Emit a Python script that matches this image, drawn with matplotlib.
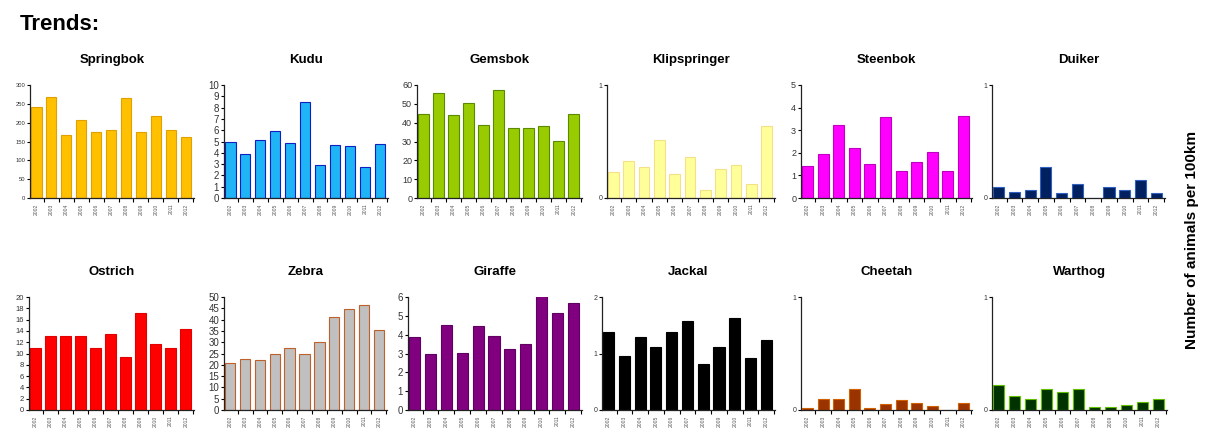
import matplotlib
matplotlib.use("Agg")
import matplotlib.pyplot as plt
from matplotlib.ticker import MultipleLocator, FixedLocator
import numpy as np

plt.rcParams['font.family'] = ['Liberation Sans', 'DejaVu Sans']

years = [str(y) for y in range(2002, 2013)]

species = ["Springbok", "Kudu", "Gemsbok", "Klipspringer", "Steenbok", "Duiker",
           "Ostrich", "Zebra", "Giraffe", "Jackal", "Cheetah", "Warthog"]

springbok = [242, 268, 168, 207, 175, 181, 265, 175, 217, 181, 162]
kudu = [5.0, 3.9, 5.1, 5.9, 4.9, 8.5, 2.9, 4.7, 4.6, 2.7, 4.8]
gemsbok = [44.5, 55.5, 44, 50.5, 38.5, 57.5, 37, 37, 38, 30.5, 44.5]
klipspringer = [0.23, 0.33, 0.27, 0.51, 0.21, 0.36, 0.07, 0.26, 0.29, 0.125, 0.64]
steenbok = [1.4, 1.95, 3.25, 2.2, 1.5, 3.6, 1.2, 1.6, 2.05, 1.2, 3.65]
duiker = [0.10, 0.055, 0.075, 0.27, 0.045, 0.125, 0.0, 0.10, 0.075, 0.155, 0.045]
ostrich = [11, 13.1, 13.1, 13.1, 11, 13.4, 9.4, 17.2, 11.7, 11, 14.4]
zebra = [21, 22.7, 22.2, 24.8, 27.3, 24.8, 30.1, 41.3, 44.5, 46.5, 35.6]
giraffe = [3.85, 3.0, 4.5, 3.05, 4.45, 3.95, 3.25, 3.5, 6.05, 5.15, 5.7]
jackal = [1.38, 0.95, 1.29, 1.11, 1.38, 1.57, 0.82, 1.11, 1.62, 0.92, 1.24]
cheetah = [0.015, 0.10, 0.10, 0.19, 0.02, 0.055, 0.09, 0.065, 0.035, 0.0, 0.065]
warthog = [0.22, 0.12, 0.10, 0.19, 0.16, 0.19, 0.025, 0.025, 0.04, 0.07, 0.10]

values = [springbok, kudu, gemsbok, klipspringer, steenbok, duiker,
          ostrich, zebra, giraffe, jackal, cheetah, warthog]

# y axis max and step per panel
ymax = [300, 10, 60, 1, 5, 1, 20, 50, 6, 2, 1, 1]
ystep = [50, 1, 10, 1, 1, 1, 2, 5, 1, 1, 1, 1]

fills = ["#FFC000", "#1EB4F5", "#99CC00", "#FFFF99", "#FF00FF", "#002060",
         "#FF0000", "#C0C0C0", "#800080", "#000000", "#993300", "#003300"]
edges = ["#E0A000", "#1020C0", "#5A8A00", "#F5E08A", "#C000C0", "#3060C0",
         "#E00000", "#C0602A", "#600060", "#000000", "#D06000", "#60C000"]
ytick_size = [4.2, 7, 6.5, 5, 6.5, 5, 5.5, 7, 7, 5, 5, 5]

# axes left/right edges in pixels
cols_top = [(30, 194), (224, 388), (417, 582), (607, 775), (801, 972), (992, 1165)]
cols_bot = [(29, 194), (224, 387), (408, 582), (602, 775), (801, 972), (992, 1167)]

W, H = 1208, 433
fig = plt.figure(figsize=(W / 100, H / 100), dpi=100)

for k, name in enumerate(species):
    row = k // 6
    left, right = (cols_top if row == 0 else cols_bot)[k % 6]
    top_px, bot_px = (85, 198) if row == 0 else (297, 410)
    ax = fig.add_axes([left / W, 1 - bot_px / H, (right - left) / W, (bot_px - top_px) / H])
    x = np.arange(len(years))
    ax.bar(x, values[k], width=0.7, color=fills[k], edgecolor=edges[k], linewidth=0.8)
    ax.set_xlim(-0.42, len(years) - 0.45)
    ax.set_ylim(0, ymax[k])
    ax.yaxis.set_major_locator(MultipleLocator(ystep[k]))
    ax.set_xticks(x)
    ax.set_xticklabels(years, rotation=90, fontsize=3.6, color="#555555")
    ax.xaxis.set_minor_locator(FixedLocator(np.arange(len(years)) + 0.5))
    ax.tick_params(axis='x', which='major', length=0, pad=4)
    ax.tick_params(axis='x', which='minor', length=3, width=0.8, direction='out')
    ax.tick_params(axis='y', length=2.5, width=0.8, labelsize=ytick_size[k], pad=1,
                   labelcolor="#333333")
    for s in ("top", "right"):
        ax.spines[s].set_visible(False)
    for s in ("left", "bottom"):
        ax.spines[s].set_linewidth(0.9)
        ax.spines[s].set_color("#222222")
    ax.set_title(name, fontsize=9.5, fontweight='bold', pad=16)

fig.text(20 / W, 1 - 25 / H, "Trends:", fontsize=16, fontweight='bold', ha='left', va='center')
fig.text(1192 / W, 1 - 240 / H, "Number of animals per 100km", fontsize=11,
         fontweight='bold', rotation=90, ha='center', va='center')

fig.savefig("out.png", dpi=100)
